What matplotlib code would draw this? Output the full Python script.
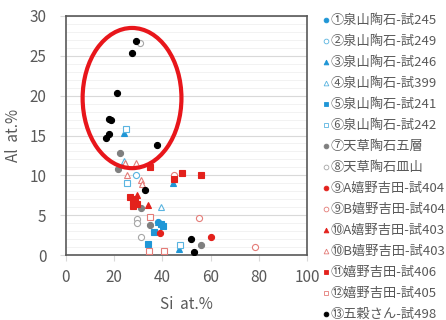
import matplotlib
matplotlib.use("Agg")
import matplotlib.pyplot as plt
from matplotlib.patches import Ellipse
from matplotlib.lines import Line2D

plt.rcParams['font.family'] = ['Noto Sans CJK JP', 'DejaVu Sans']

labels = ["①泉山陶石-試245", "②泉山陶石-試249", "③泉山陶石-試246", "④泉山陶石-試399",
          "⑤泉山陶石-試241", "⑥泉山陶石-試242", "⑦天草陶石五層", "⑧天草陶石皿山",
          "⑨A嬉野吉田-試404", "⑨B嬉野吉田-試404", "⑩A嬉野吉田-試403", "⑩B嬉野吉田-試403",
          "⑪嬉野吉田-試406", "⑫嬉野吉田-試405", "⑬五穀さん-試498"]

s1_si = [38.0]; s1_al = [4.1]
s2_si = [29.0]; s2_al = [10.1]
s3_si = [24.0, 44.3, 47.0, 38.2]; s3_al = [15.3, 9.0, 0.75, 4.1]
s4_si = [23.9, 39.3]; s4_al = [11.8, 6.0]
s5_si = [39.4, 40.2, 36.6, 34.2]; s5_al = [3.9, 3.6, 2.9, 1.4]
s6_si = [24.8, 25.3, 47.2]; s6_al = [15.8, 9.1, 1.3]
s7_si = [22.5, 21.6, 31.0, 34.9, 55.9]; s7_al = [12.8, 10.8, 5.9, 3.8, 1.25]
s8_si = [30.7, 29.3, 29.5, 31.1]; s8_al = [26.6, 4.5, 4.0, 2.2]
s9a_si = [38.9, 60.3]; s9a_al = [2.8, 2.2]
s9b_si = [45.0, 55.0, 78.3]; s9b_al = [10.1, 4.6, 1.0]
s10a_si = [34.2, 29.3]; s10a_al = [6.3, 7.5]
s10b_si = [24.6, 28.9, 25.3, 31.1, 31.4]; s10b_al = [11.6, 11.5, 10.1, 9.4, 8.9]
s11_si = [34.9, 45.0, 48.3, 56.0, 26.6, 28.6, 27.7, 29.3, 28.0]
s11_al = [11.1, 9.6, 10.3, 10.1, 7.3, 7.0, 6.1, 6.4, 6.8]
s12_si = [34.7, 34.6, 40.8]; s12_al = [4.8, 0.5, 0.5]
s13_si = [28.9, 27.5, 21.3, 17.8, 18.5, 17.8, 16.7, 37.9, 32.9, 52.0, 53.1]
s13_al = [26.9, 25.4, 20.3, 17.1, 16.9, 15.2, 14.7, 13.8, 8.2, 2.0, 0.4]

BLUE = "#1f96d6"
LBLUE = "#5ab4e0"
GRAY = "#7f7f7f"
LGRAY = "#a6a6a6"
RED = "#e3211c"
LRED = "#e47c78"

series = [
    (s1_si, s1_al, 'o', BLUE, True),
    (s2_si, s2_al, 'o', LBLUE, False),
    (s3_si, s3_al, '^', BLUE, True),
    (s4_si, s4_al, '^', LBLUE, False),
    (s5_si, s5_al, 's', BLUE, True),
    (s6_si, s6_al, 's', LBLUE, False),
    (s7_si, s7_al, 'o', GRAY, True),
    (s8_si, s8_al, 'o', LGRAY, False),
    (s9a_si, s9a_al, 'o', RED, True),
    (s9b_si, s9b_al, 'o', LRED, False),
    (s10a_si, s10a_al, '^', RED, True),
    (s10b_si, s10b_al, '^', LRED, False),
    (s11_si, s11_al, 's', RED, True),
    (s12_si, s12_al, 's', LRED, False),
    (s13_si, s13_al, 'o', "#000000", True),
]

W, H = 446, 320
fig = plt.figure(figsize=(W/100, H/100), dpi=100)
ax = fig.add_axes([66/W, 65/H, 241/W, 239/H])

for i, ((xs, ys, m, c, filled), lab) in enumerate(zip(series, labels)):
    ms = 4.4 if m != 's' else 4.0
    fc = c if filled else 'white'
    ax.plot(xs, ys, linestyle='none', marker=m, ms=ms, mfc=fc, mec=c, mew=0.8, zorder=3)
    # manual legend entry
    yc = 1 - (20 + 21 * i) / H
    fig.add_artist(Line2D([326/W], [yc], transform=fig.transFigure, linestyle='none',
                          marker=m, ms=3.4, mfc=fc, mec=c, mew=0.6))
    fig.text(331/W, yc, lab, fontsize=9.5, color="#595959", va='center', ha='left')

ell = Ellipse((27.4, 19.7), 41, 17.6, fill=False, edgecolor="#e8161b", linewidth=3.0, zorder=4)
ax.add_patch(ell)

ax.set_xlim(0, 100)
ax.set_ylim(0, 30)
ax.set_xticks([0, 20, 40, 60, 80, 100])
ax.set_yticks([0, 5, 10, 15, 20, 25, 30])
ax.set_yticks(range(0, 31), minor=True)
ax.grid(True, which='major', axis='y', color="#d9d9d9", linewidth=0.8, zorder=0)
ax.grid(True, which='minor', axis='y', color="#f0f0f0", linewidth=0.6, zorder=0)
ax.set_axisbelow(True)
for sp in ax.spines.values():
    sp.set_color("#595959")
    sp.set_linewidth(1.2)
ax.tick_params(axis='x', which='major', colors="#d9d9d9", labelcolor="#595959",
               labelsize=11, length=4, width=0.8, pad=6)
ax.tick_params(axis='y', which='major', colors="#d9d9d9", labelcolor="#595959",
               labelsize=11, length=4, width=0.8, pad=10)
ax.tick_params(axis='y', which='minor', length=0)
ax.set_xlabel("Si  at.%", fontsize=11, color="#595959", labelpad=7)
ax.set_ylabel("Al  at.%", fontsize=11, color="#595959", va='center')
ax.yaxis.set_label_coords((14 - 66) / 241, 0.5)

fig.savefig("out.png", dpi=100)
